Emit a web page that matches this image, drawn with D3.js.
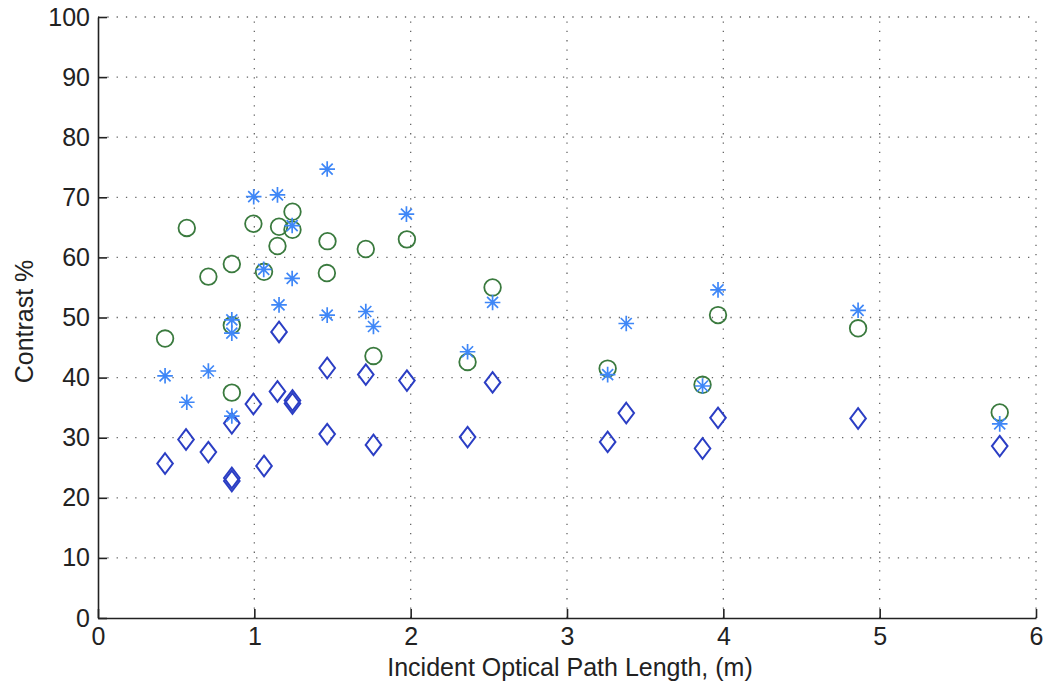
<!DOCTYPE html>
<html>
<head>
<meta charset="utf-8">
<script src="https://cdn.jsdelivr.net/npm/d3@7"></script>
<style>
  body { margin: 0; background: #fff; }
  svg { display: block; font-family: "Liberation Sans", Arial, Helvetica, sans-serif; }
</style>
</head>
<body>
<svg id="chart" width="1048" height="692"></svg>
<script>
// ---- Data ----
const xTicks = [0, 1, 2, 3, 4, 5, 6];
const yTicks = [0, 10, 20, 30, 40, 50, 60, 70, 80, 90, 100];
const xLabel = "Incident Optical Path Length, (m)";
const yLabel = "Contrast %";

// Asterisk series (light blue)
const starX = [0.429, 0.568, 0.706, 0.856, 0.856, 0.856, 0.996, 1.060, 1.148, 1.158, 1.242, 1.242, 1.466, 1.466, 1.713, 1.762, 1.973, 2.364, 2.524, 3.260, 3.379, 3.867, 3.966, 4.862, 5.768];
const starY = [40.3, 35.9, 41.1, 49.6, 47.4, 33.6, 70.1, 58.0, 70.4, 52.1, 65.3, 56.5, 74.7, 50.4, 51.0, 48.5, 67.2, 44.3, 52.5, 40.5, 49.0, 38.6, 54.6, 51.2, 32.3];

// Circle series (green)
const circX = [0.429, 0.568, 0.706, 0.856, 0.856, 0.856, 0.994, 1.062, 1.158, 1.148, 1.244, 1.244, 1.468, 1.464, 1.713, 1.762, 1.976, 2.364, 2.524, 3.260, 3.867, 3.966, 4.862, 5.768];
const circY = [46.5, 64.9, 56.8, 58.9, 48.7, 37.5, 65.6, 57.6, 65.1, 61.9, 67.6, 64.6, 62.7, 57.4, 61.4, 43.6, 63.0, 42.6, 55.0, 41.5, 38.8, 50.4, 48.2, 34.2];

// Diamond series (dark blue)
const diamX = [0.429, 0.563, 0.706, 0.856, 0.856, 0.856, 0.994, 1.062, 1.148, 1.158, 1.244, 1.244, 1.466, 1.466, 1.713, 1.762, 1.976, 2.364, 2.524, 3.260, 3.379, 3.867, 3.966, 4.862, 5.768];
const diamY = [25.7, 29.7, 27.6, 32.4, 22.8, 23.3, 35.6, 25.3, 37.7, 47.6, 35.7, 36.2, 41.6, 30.6, 40.5, 28.8, 39.5, 30.1, 39.2, 29.3, 34.1, 28.2, 33.3, 33.2, 28.6];

// ---- Layout ----
const svg = d3.select("#chart");
const mLeft = 98, mRight = 1036, mTop = 17, mBottom = 618;
const x = d3.scaleLinear().domain([0, 6]).range([mLeft, mRight]);
const y = d3.scaleLinear().domain([0, 100]).range([mBottom, mTop]);

// Grid (dotted)
const grid = svg.append("g").attr("stroke", "#666").attr("stroke-width", 1.3)
  .attr("stroke-dasharray", "1.3,8").attr("fill", "none");
grid.selectAll("line.vx").data(xTicks.filter(d => d > 0)).join("line")
  .attr("x1", d => x(d)).attr("x2", d => x(d)).attr("y1", y(0)).attr("y2", y(100));
grid.selectAll("line.hy").data(yTicks.filter(d => d > 0)).join("line")
  .attr("y1", d => y(d)).attr("y2", d => y(d)).attr("x1", x(0)).attr("x2", x(6));

// Axes
const fontSize = 25;
const xAxis = svg.append("g").attr("transform", `translate(0,${mBottom})`)
  .call(d3.axisBottom(x).tickValues(xTicks).tickFormat(d3.format("d"))
    .tickSizeInner(-9).tickSizeOuter(0).tickPadding(9));
const yAxis = svg.append("g").attr("transform", `translate(${mLeft},0)`)
  .call(d3.axisLeft(y).tickValues(yTicks).tickFormat(d3.format("d"))
    .tickSizeInner(-9).tickSizeOuter(0).tickPadding(8));
[xAxis, yAxis].forEach(a => {
  a.select(".domain").attr("stroke", "#222").attr("stroke-width", 1.6);
  a.selectAll(".tick line").attr("stroke", "#222").attr("stroke-width", 1.6);
  a.selectAll(".tick text").attr("fill", "#222").style("font-size", fontSize + "px")
    .style("font-family", '"Liberation Sans", Arial, sans-serif');
});

// Axis labels
svg.append("text").attr("x", (mLeft + mRight) / 2 + 3).attr("y", 676)
  .attr("text-anchor", "middle").attr("fill", "#222").style("font-size", fontSize + "px")
  .text(xLabel);
svg.append("text").attr("transform", `translate(33,${(mTop + mBottom) / 2 + 4}) rotate(-90)`)
  .attr("text-anchor", "middle").attr("fill", "#222").style("font-size", fontSize + "px")
  .text(yLabel);

// Markers
const circColor = "#3a7a3e", diamColor = "#2b3ec4", starColor = "#3f87f7";

svg.append("g").selectAll("circle").data(d3.range(circX.length)).join("circle")
  .attr("cx", i => x(circX[i])).attr("cy", i => y(circY[i])).attr("r", 8.3)
  .attr("fill", "none").attr("stroke", circColor).attr("stroke-width", 1.8);

const dw = 7.8, dh = 10.3;
svg.append("g").selectAll("path").data(d3.range(diamX.length)).join("path")
  .attr("transform", i => `translate(${x(diamX[i])},${y(diamY[i])})`)
  .attr("d", `M0,${-dh}L${dw},0L0,${dh}L${-dw},0Z`)
  .attr("fill", "none").attr("stroke", diamColor).attr("stroke-width", 2);

const s = 7.8, sd = 5.5;
const starPath = `M${-s},0L${s},0M0,${-s}L0,${s}M${-sd},${-sd}L${sd},${sd}M${-sd},${sd}L${sd},${-sd}`;
svg.append("g").selectAll("path").data(d3.range(starX.length)).join("path")
  .attr("transform", i => `translate(${x(starX[i])},${y(starY[i])})`)
  .attr("d", starPath)
  .attr("fill", "none").attr("stroke", starColor).attr("stroke-width", 1.7);
</script>
</body>
</html>
